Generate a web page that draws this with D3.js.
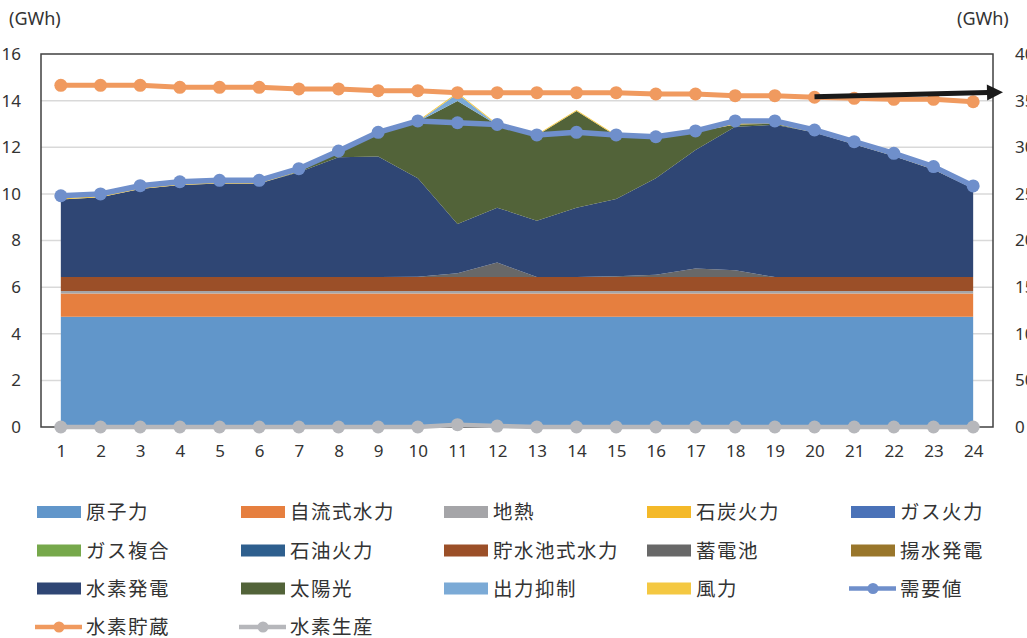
<!DOCTYPE html>
<html><head><meta charset="utf-8">
<script src="https://cdn.jsdelivr.net/npm/d3@7"></script>
<style>
body{margin:0;background:#fff;}
svg{display:block;}
text{font-family:"Noto Sans CJK JP","Noto Sans",sans-serif;fill:#333;}
</style></head><body>
<svg id="c" width="1027" height="638"></svg>
<script>
const hours = d3.range(1,25);
const leftTicks = [0,2,4,6,8,10,12,14,16];
const rightTicks = [0,50,100,150,200,250,300,350,400];

const nuclear   = Array(24).fill(4.73);
const runRiver  = Array(24).fill(1.0);
const geo       = Array(24).fill(0.1);
const coal      = Array(24).fill(0);
const gas       = Array(24).fill(0);
const gasCC     = Array(24).fill(0);
const oil       = Array(24).fill(0);
const reservoir = Array(24).fill(0.6);
const battery   = [0,0,0,0,0,0,0,0,0,0.02,0.16,0.63,0,0,0.04,0.1,0.37,0.29,0,0,0,0,0,0];
const pumped    = Array(24).fill(0);
const h2gen     = [3.33,3.43,3.78,3.95,4.01,4.01,4.5,5.14,5.17,4.22,2.12,2.35,2.42,2.97,3.31,4.14,5.08,6.16,6.53,6.2,5.7,5.2,4.62,3.8];
const solar     = [0,0,0,0,0,0,0.03,0.22,1.0,2.42,5.27,3.54,3.65,4.15,2.7,1.73,0.77,0.1,0.05,0,0,0,0,0];
const curtail   = [0,0,0,0,0,0,0,0,0,0,0.32,0,0,0,0,0,0,0,0,0,0,0,0,0];
const wind      = Array(24).fill(0.05);
const demand    = [9.92,10.0,10.35,10.52,10.58,10.58,11.08,11.84,12.64,13.13,13.05,12.98,12.53,12.64,12.53,12.45,12.70,13.13,13.13,12.74,12.24,11.74,11.17,10.34];
const h2storage = [366.4,366.4,366.4,364.3,364.3,364.3,362.5,362.5,360.7,360.7,358.5,358.5,358.5,358.5,358.5,357.1,357.1,355.3,355.3,353.6,352.5,351.4,351.4,348.8];
const h2prod    = [0,0,0,0,0,0,0,0,0,0,0.1,0.04,0,0,0,0,0,0,0,0,0,0,0,0];

const areaNames  = ["原子力","自流式水力","地熱","石炭火力","ガス火力","ガス複合","石油火力","貯水池式水力","蓄電池","揚水発電","水素発電","太陽光","出力抑制","風力"];
const areaSeries = [nuclear,runRiver,geo,coal,gas,gasCC,oil,reservoir,battery,pumped,h2gen,solar,curtail,wind];
const areaColors = ["#6196CA","#E67F3F","#A5A5A8","#F4B929","#4A72B8","#76A84B","#2E5F8E","#9B4F28","#686868","#99762B","#2F4674","#526339","#7BAAD6","#F4C842"];

const svg = d3.select("#c");
const L=41, R=993, T=54, B=427;
const x = d3.scalePoint().domain(hours).range([L,R]).padding(0.5);
const y = d3.scaleLinear().domain([0,16]).range([B,T]);
const y2 = d3.scaleLinear().domain([0,400]).range([B,T]);

// gridlines
svg.append("g").selectAll("line").data(leftTicks.filter(d=>d>0&&d<16)).join("line")
  .attr("x1",L).attr("x2",R).attr("y1",d=>y(d)).attr("y2",d=>y(d))
  .attr("stroke","#D9D9D9").attr("stroke-width",1.5);

// stacked areas
const table = hours.map((h,i)=>{const o={h}; areaNames.forEach((n,k)=>o[n]=areaSeries[k][i]); return o;});
const stack = d3.stack().keys(areaNames)(table);
const area = d3.area().x(d=>x(d.data.h)).y0(d=>y(d[0])).y1(d=>y(d[1]));
svg.append("g").selectAll("path").data(stack).join("path")
  .attr("d",area).attr("fill",(d,i)=>areaColors[i]);

// frame
svg.append("rect").attr("x",L).attr("y",T).attr("width",R-L).attr("height",B-T)
  .attr("fill","none").attr("stroke","#404040").attr("stroke-width",1.5);

// left axis
const ax = svg.append("g").attr("transform",`translate(${L},0)`)
  .call(d3.axisLeft(y).tickValues(leftTicks).tickSize(0).tickPadding(20));
ax.select(".domain").remove();
ax.selectAll("text").attr("font-size",17).style("font-family","'Noto Sans',sans-serif").attr("fill","#333");

// right axis
const ar = svg.append("g").attr("transform",`translate(${R},0)`)
  .call(d3.axisRight(y2).tickValues(rightTicks).tickSize(0).tickPadding(22));
ar.select(".domain").remove();
ar.selectAll("text").attr("font-size",17).style("font-family","'Noto Sans',sans-serif").attr("fill","#333");

// x axis
const axx = svg.append("g").attr("transform",`translate(0,${B})`)
  .call(d3.axisBottom(x).tickSize(0).tickPadding(18));
axx.select(".domain").remove();
axx.selectAll("text").attr("font-size",17).style("font-family","'Noto Sans',sans-serif").attr("fill","#333");

// unit labels
svg.append("text").attr("x",9).attr("y",25).attr("font-size",18).style("font-family","'Noto Sans',sans-serif").text("(GWh)");
svg.append("text").attr("x",957).attr("y",25).attr("font-size",18).style("font-family","'Noto Sans',sans-serif").text("(GWh)");

// lines
function drawLine(vals, ys, color, w){
  const g = svg.append("g");
  g.append("path").datum(vals).attr("fill","none").attr("stroke",color).attr("stroke-width",w)
    .attr("stroke-linejoin","round")
    .attr("d",d3.line().x((d,i)=>x(hours[i])).y(d=>ys(d)));
  g.selectAll("circle").data(vals).join("circle")
    .attr("cx",(d,i)=>x(hours[i])).attr("cy",d=>ys(d)).attr("r",6.5).attr("fill",color);
}
drawLine(h2prod, y, "#B6B7BB", 4.5);
drawLine(demand, y, "#6F8FCB", 5.5);
drawLine(h2storage, y2, "#F09A5F", 5);

// annotation arrow
const arrowStart = {h:20, v:354.2};
const arrowEndX = 1003, arrowEndV = 359;
const ax0 = x(arrowStart.h), ay0 = y2(arrowStart.v), ax1 = arrowEndX, ay1 = y2(arrowEndV);
const ang = Math.atan2(ay1-ay0, ax1-ax0);
const hl = 16, hw = 8;
const bx = ax1 - hl*Math.cos(ang), by = ay1 - hl*Math.sin(ang);
svg.append("line").attr("x1",ax0).attr("y1",ay0).attr("x2",bx+1).attr("y2",by)
  .attr("stroke","#1A1A1A").attr("stroke-width",5);
svg.append("path").attr("fill","#1A1A1A")
  .attr("d",`M${ax1},${ay1}L${bx - hw*Math.sin(ang)},${by + hw*Math.cos(ang)}L${bx + hw*Math.sin(ang)},${by - hw*Math.cos(ang)}Z`);

// legend
const legendItems = [
  ...areaNames.map((n,i)=>({name:n,color:areaColors[i],type:"rect"})),
];
// order per legend rows
const order = ["原子力","自流式水力","地熱","石炭火力","ガス火力","ガス複合","石油火力","貯水池式水力","蓄電池","揚水発電","水素発電","太陽光","出力抑制","風力","需要値","水素貯蔵","水素生産"];
const lineItems = {"需要値":"#6F8FCB","水素貯蔵":"#F09A5F","水素生産":"#B6B7BB"};
const colX = [37,241,444,647,851];
const rowY = [512,550.5,588.5,627];
const lg = svg.append("g");
order.forEach((n,i)=>{
  const c = i%5, r = Math.floor(i/5);
  const gx = colX[c], gy = rowY[r];
  if (lineItems[n]) {
    lg.append("line").attr("x1",gx-2).attr("x2",gx+45).attr("y1",gy).attr("y2",gy)
      .attr("stroke",lineItems[n]).attr("stroke-width",4.5);
    lg.append("circle").attr("cx",gx+22).attr("cy",gy).attr("r",5.5).attr("fill",lineItems[n]);
  } else {
    const k = areaNames.indexOf(n);
    lg.append("rect").attr("x",gx).attr("y",gy-6).attr("width",44).attr("height",12).attr("fill",areaColors[k]);
  }
  lg.append("text").attr("x",gx+49).attr("y",gy).attr("dy","0.36em")
    .attr("font-size",19.5).attr("letter-spacing",1.5).text(n);
});
</script>
</body></html>
